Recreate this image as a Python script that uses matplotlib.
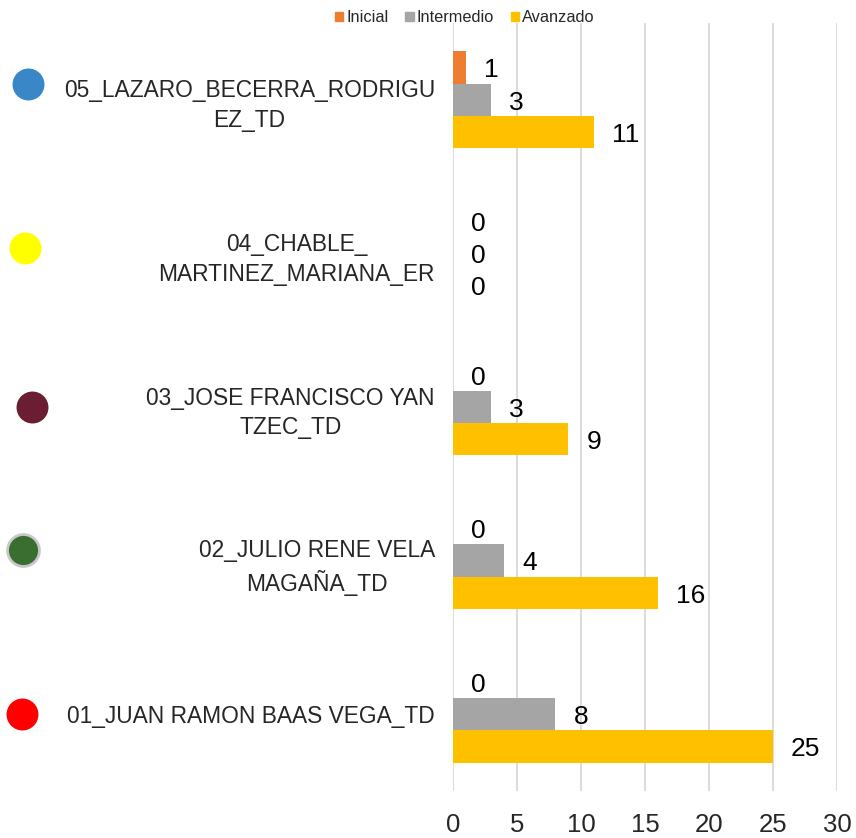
import matplotlib.pyplot as plt
import numpy as np
from matplotlib import transforms
from matplotlib.patches import Patch

plt.rcParams['font.family'] = ['Liberation Sans', 'DejaVu Sans']

# data (bottom to top)
categories = ['01_JUAN RAMON BAAS VEGA_TD',
              '02_JULIO RENE VELA\nMAGAÑA_TD',
              '03_JOSE FRANCISCO YAN\nTZEC_TD',
              '04_CHABLE_\nMARTINEZ_MARIANA_ER',
              '05_LAZARO_BECERRA_RODRIGU\nEZ_TD']
inicial = [0, 0, 0, 0, 1]
intermedio = [8, 4, 3, 0, 3]
avanzado = [25, 16, 9, 0, 11]
series_names = ['Inicial', 'Intermedio', 'Avanzado']
x_ticks = [0, 5, 10, 15, 20, 25, 30]

colors = ['#ED7D31', '#A5A5A5', '#FFC000']
dot_colors = ['#FF0000', '#3A6E31', '#6B1D33', '#FFFF00', '#3A87C8']
dot_x = [0.026, 0.027, 0.037, 0.029, 0.033]
dot_dy = [0.0, 0.07, 0.0, 0.035, 0.1]

fig = plt.figure(figsize=(8.56, 8.38), dpi=100)
ax = fig.add_axes([453 / 856, 1 - 791 / 838, (837 - 453) / 856, (791 - 23) / 838])

y = np.arange(len(categories))
h = 0.21
text_col = '#262626'
for vals, off, col, name in zip([inicial, intermedio, avanzado], [h, 0, -h], colors, series_names):
    bars = ax.barh(y + off, vals, height=h, color=col, label=name, zorder=3)
    for b, v in zip(bars, vals):
        ax.annotate(str(v), (b.get_width(), b.get_y() + b.get_height() / 2),
                    xytext=(13, -2), textcoords='offset points',
                    ha='left', va='center', fontsize=19, color='#000000')

ax.set_xlim(0, 30)
ax.set_ylim(-0.5, len(categories) - 0.5)
ax.set_xticks(x_ticks)
ax.set_xticklabels([str(t) for t in x_ticks], fontsize=18.5, color=text_col)
ax.set_yticks(y)
ax.set_yticklabels(categories, fontsize=16.4, color=text_col, multialignment='center')
for t in ax.get_yticklabels():
    t.set_linespacing(1.38)
ax.tick_params(axis='y', length=0, pad=13)
ax.tick_params(axis='x', length=0, pad=16)
ax.grid(axis='x', color='#D9D9D9', linewidth=1.3, zorder=0)
for s in ax.spines.values():
    s.set_visible(False)

# colored dots next to the names
tr = transforms.blended_transform_factory(fig.transFigure, ax.transData)
for i, c in enumerate(dot_colors):
    ec = '#C8C8C8' if i == 1 else c
    ax.plot(dot_x[i], y[i] + dot_dy[i], 'o', markersize=23, color=c, markeredgecolor=ec,
            markeredgewidth=2 if i == 1 else 0, transform=tr, clip_on=False)

handles = [Patch(color=c) for c in colors]
fig.legend(handles, series_names, loc='center', bbox_to_anchor=(465 / 856, 1 - 18 / 838),
           ncol=3, frameon=False, fontsize=11.8, handlelength=0.5, handleheight=0.5,
           handletextpad=0.2, columnspacing=1.0, labelcolor=text_col)

fig.savefig('out.png', dpi=100)
